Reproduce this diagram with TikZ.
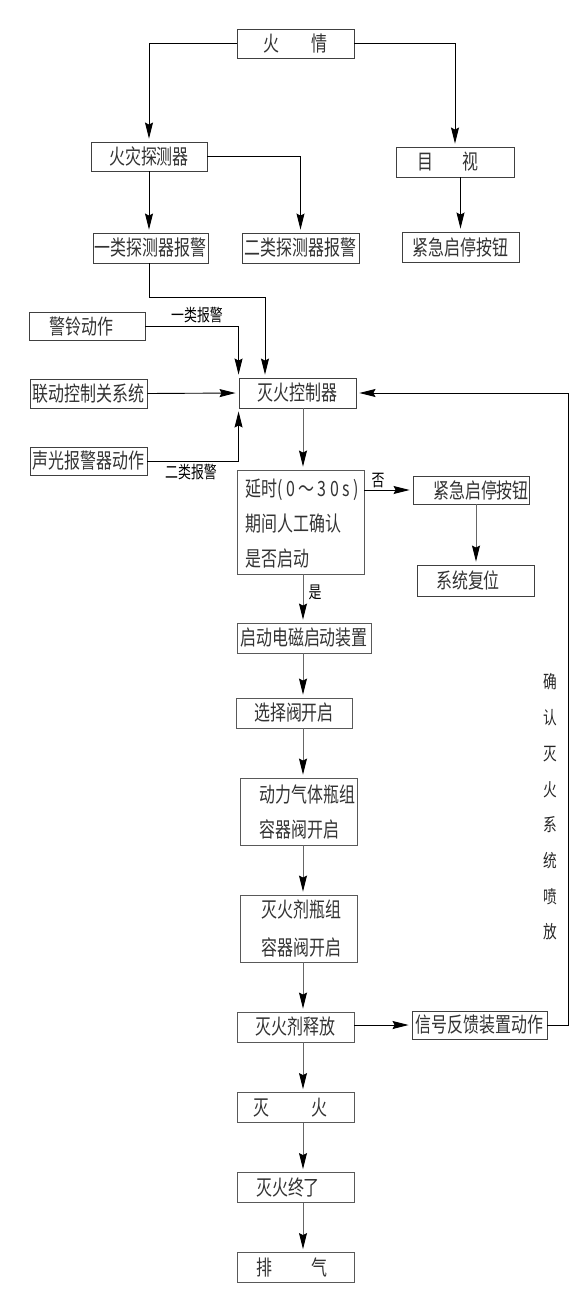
\documentclass[tikz,border=0pt]{standalone}
\usepackage{fontspec}
\newfontfamily\cjk[FakeStretch=0.76]{Noto Sans CJK SC}
\usetikzlibrary{arrows.meta,calc}
\begin{document}
\begin{tikzpicture}[x=1pt,y=-1pt,
  box/.style={draw=black!75, line width=0.9pt, inner sep=0pt, minimum height=30pt, minimum width=117pt,
    font=\cjk\fontsize{21}{21}\selectfont, text=black!80},
  lbox/.style={box, draw=black!65},
  mtext/.style={inner sep=0pt, align=left, font=\cjk\fontsize{21}{35}\selectfont, text=black!80},
  arr/.style={line width=0.9pt, -{Stealth[length=16pt,width=8pt,inset=2pt,color=black]}, shorten >=3pt},
  garr/.style={arr, draw=black!60},
  lab/.style={inner sep=0pt, font=\cjk\fontsize{17}{17}\selectfont},
  vlab/.style={inner sep=0pt, align=center, font=\cjk\fontsize{18}{35.7}\selectfont, text=black!85},
]
\useasboundingbox (0,0) rectangle (585,1295);
% upper boxes
\node[box, minimum width=117, minimum height=29] (fire) at (295.5,43.5) {火\hspace{32pt}情};
\node[box, minimum width=116, minimum height=29] (det) at (149,156.5) {火灾探测器};
\node[box, minimum width=118] (eye) at (455,162) {目\hspace{29pt}视\hspace*{15pt}};
\node[box, minimum width=115] (a1) at (150.5,248) {一类探测器报警};
\node[box] (a2) at (300.5,248) {二类探测器报警};
\node[box] (btn1) at (460.5,247) {紧急启停按钮};
\node[box, minimum width=116, minimum height=28] (bell) at (87,326) {警铃动作\hspace*{11pt}};
\node[box, minimum height=29] (link) at (88.5,393.5) {联动控制关系统};
\node[box] (ctrl) at (297.5,393) {灭火控制器};
\node[box, minimum height=28] (sound) at (88.5,461) {声光报警器动作};
% decision
\node[lbox, minimum width=127, minimum height=104] (delay) at (300.5,522) {};
\node[mtext, anchor=west] (delayt) at (245,524) {延时(\,0\,～\,3\,0\,s\,)\\期间人工确认\\是否启动};
\node[box, minimum width=116, minimum height=28] (btn2) at (471,490) {\hspace*{20pt}紧急启停按钮};
\node[box, minimum height=31] (reset) at (475.5,580.5) {系统复位\hspace*{15pt}};
% main column
\node[lbox, minimum width=134] (start) at (304,638) {启动电磁启动装置};
\node[lbox, minimum width=116] (sel) at (294,713) {选择阀开启};
\node[lbox, minimum height=67] (power) at (298.5,811.5) {};
\node[mtext, anchor=west] (powert) at (259,812) {动力气体瓶组\\容器阀开启};
\node[lbox, minimum height=67] (agent) at (298.5,928.5) {};
\node[mtext, anchor=west, font=\cjk\fontsize{21}{38}\selectfont] (agentt) at (261,929) {灭火剂瓶组\\容器阀开启};
\node[lbox] (release) at (295.5,1027) {灭火剂释放};
\node[box, minimum width=135, minimum height=28] (feedback) at (479.5,1025) {信号反馈装置动作};
\node[lbox] (ext) at (295.5,1107.5) {灭\hspace{43pt}火\hspace*{10pt}};
\node[lbox] (fin) at (295.5,1187.5) {灭火终了\hspace*{15pt}};
\node[lbox] (exh) at (295.5,1267.5) {排\hspace{40pt}气\hspace*{7pt}};
% labels
\node[lab, anchor=south] (l1) at (197,323) {一类报警};
\node[lab, anchor=north] (l2) at (191,464) {二类报警};
\node[lab] (no) at (378,481) {否};
\node[lab] (yes) at (315,592) {是};
\node[vlab] (vt) at (550,807) {确\\认\\灭\\火\\系\\统\\喷\\放};
% helper coordinates
\coordinate (j1) at (265,297);
\coordinate (mx) at (303,0);
\coordinate (bx) at (476,0);
\coordinate (fx) at (568,0);
% connectors
\draw[arr] (fire.west) -| (det.north);
\draw[arr] (fire.east) -| (eye.north);
\draw[arr] (det.south) -- (a1.north -| det.south);
\draw[arr] (det.east) -| (a2.north);
\draw[arr] (btn1.north |- eye.south) -- (btn1.north);
\draw[arr] (a1.south -| det.south) |- (j1) -- (j1 |- ctrl.north);
\draw[arr] (bell.east) -| (ctrl.north west);
\draw[arr] (link.east) -- (ctrl.west);
\draw[arr] (sound.east) -| (ctrl.south west);
\draw[garr] (ctrl.south -| mx) -- (delay.north -| mx);
\draw[arr] (delay.east |- btn2.west) -- (btn2.west);
\draw[garr] (btn2.south -| bx) -- (reset.north -| bx);
\draw[garr] (delay.south -| mx) -- (start.north -| mx);
\draw[garr] (start.south -| mx) -- (sel.north -| mx);
\draw[garr] (sel.south -| mx) -- (power.north -| mx);
\draw[garr] (power.south -| mx) -- (agent.north -| mx);
\draw[garr] (agent.south -| mx) -- (release.north -| mx);
\draw[garr] (release.south -| mx) -- (ext.north -| mx);
\draw[garr] (ext.south -| mx) -- (fin.north -| mx);
\draw[garr] (fin.south -| mx) -- (exh.north -| mx);
\draw[arr] (release.east |- feedback.west) -- (feedback.west);
\draw[arr] (feedback.east) -- (feedback.east -| fx) -- (fx |- ctrl.east) -- (ctrl.east);
\end{tikzpicture}
\end{document}
